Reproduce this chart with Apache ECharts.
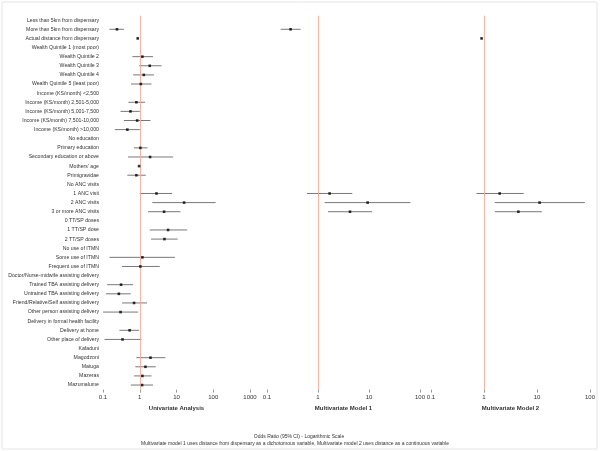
<!DOCTYPE html>
<html><head><meta charset="utf-8">
<script src="https://cdn.jsdelivr.net/npm/echarts@6/dist/echarts.min.js"></script>
<style>html,body{margin:0;padding:0;background:#fff}#c{width:600px;height:451px}</style>
</head><body><div id="c"></div>
<script>
const categories = [
 "Less than 5km from dispensary","More than 5km from dispensary","Actual distance from dispensary",
 "Wealth Quintile 1 (most poor)","Wealth Quintile 2","Wealth Quintile 3","Wealth Quintile 4","Wealth Quintile 5 (least poor)",
 "Income (KS/month) <2,500","Income (KS/month) 2,501-5,000","Income (KS/month) 5,001-7,500","Income (KS/month) 7,501-10,000","Income (KS/month) >10,000",
 "No education","Primary education","Secondary education or above","Mothers' age","Primigravidae",
 "No ANC visits","1 ANC visit","2 ANC visits","3 or more ANC visits",
 "0 TT/SP doses","1 TT/SP dose","2 TT/SP doses",
 "No use of ITMN","Some use of ITMN","Frequent use of ITMN",
 "Doctor/Nurse-midwife assisting delivery","Trained TBA assisting delivery","Untrained TBA assisting delivery","Friend/Relative/Self assisting delivery","Other person assisting delivery",
 "Delivery in formal health facility","Delivery at home","Other place of delivery",
 "Kafaduni","Magodzoni","Matuga","Mazeras","Mazumalume"
];
const N = null;
// Univariate odds ratios and 95% CI
const uniOR = [N,0.24,0.88, N,1.18,1.87,1.29,1.07, N,0.81,0.56,0.85,0.46, N,1.04,1.91,0.96,0.81, N,2.85,16.1,4.6, N,5.9,4.7, N,1.18,1.04, N,0.31,0.27,0.70,0.30, N,0.53,0.34, N,1.96,1.43,1.18,1.16];
const uniLo = [N,0.15,0.85, N,0.63,0.96,0.66,0.58, N,0.49,0.30,0.37,0.21, N,0.70,0.48,0.94,0.46, N,1.0,2.2,1.68, N,1.87,2.03, N,0.15,0.33, N,0.13,0.12,0.33,0.10, N,0.28,0.11, N,0.81,0.76,0.70,0.57];
const uniHi = [N,0.37,0.92, N,2.3,3.9,2.45,2.08, N,1.4,1.0,1.95,1.0, N,1.62,8.1,0.99,1.46, N,7.6,116,12.8, N,19.6,10.8, N,9.0,3.5, N,0.66,0.57,1.58,0.90, N,0.96,1.11, N,5.0,2.73,2.08,2.3];
// Multivariate model 1
const m1OR = {1:0.29, 19:1.69, 20:9.4, 21:4.24};
const m1Lo = {1:0.185, 19:0.61, 20:1.35, 21:1.57};
const m1Hi = {1:0.456, 19:4.7, 20:65, 21:11.5};
// Multivariate model 2
const m2OR = {2:0.90, 19:1.98, 20:11.2, 21:4.45};
const m2Lo = {2:0.88, 19:0.72, 20:1.6, 21:1.6};
const m2Hi = {2:0.92, 19:5.6, 20:80, 21:12.3};
const panelTitles = ["Univariate Analysis","Multivariate Model 1","Multivariate Model 2"];
const panelMax = [1000, 100, 100];

function arrFrom(or, lo, hi){
  const pts=[], ci=[];
  if (Array.isArray(or)) {
    or.forEach((v,i)=>{ if(v!=null){ pts.push([v,i]); ci.push([lo[i],hi[i],i]); } });
  } else {
    Object.keys(or).forEach(k=>{ const i=+k; pts.push([or[i],i]); ci.push([lo[i],hi[i],i]); });
  }
  return {pts, ci};
}
const panels = [arrFrom(uniOR,uniLo,uniHi), arrFrom(m1OR,m1Lo,m1Hi), arrFrom(m2OR,m2Lo,m2Hi)];

const FONT = "Liberation Sans, Arial, sans-serif";
const gridTop = 15.6, gridH = 374;
const grids = [
  {left:103, width:147, top:gridTop, height:gridH},
  {left:267, width:153, top:gridTop, height:gridH},
  {left:431, width:159, top:gridTop, height:gridH}
];
const xAxes = grids.map((g,i)=>({
  type:'log', logBase:10, min:0.1, max:panelMax[i], gridIndex:i,
  splitLine:{show:false},
  axisLine:{lineStyle:{color:'#999', width:1}},
  axisTick:{show:true, length:3, inside:false, lineStyle:{color:'#999'}},
  axisLabel:{fontSize:6, color:'#333', margin:5, fontFamily:FONT,
    formatter:v=>String(+v.toPrecision(3))},
  minorTick:{show:false},
  name:panelTitles[i], nameLocation:'middle', nameGap:14,
  nameTextStyle:{fontSize:6, fontWeight:'bold', color:'#333', fontFamily:FONT}
}));
const yAxes = grids.map((g,i)=>({
  type:'category', data:categories, inverse:true, gridIndex:i,
  axisLine:{show:false}, axisTick:{show:false}, splitLine:{show:false},
  axisLabel:{show:i===0, fontSize:5.2, color:'#333', margin:4, fontFamily:FONT, interval:0}
}));
const series = [];
panels.forEach((p,i)=>{
  series.push({
    type:'custom', xAxisIndex:i, yAxisIndex:i, data:p.ci, silent:true,
    renderItem:(params, api)=>{
      const a = api.coord([api.value(0), api.value(2)]);
      const b = api.coord([api.value(1), api.value(2)]);
      return {type:'line', shape:{x1:a[0],y1:a[1],x2:b[0],y2:b[1]}, style:{stroke:'#555', lineWidth:0.8}};
    },
    encode:{x:[0,1], y:2}
  });
  series.push({
    type:'scatter', xAxisIndex:i, yAxisIndex:i, data:p.pts, symbol:'rect', symbolSize:2.6,
    itemStyle:{color:'#000'}, silent:true, z:5,
    markLine:{silent:true, symbol:'none', label:{show:false},
      lineStyle:{color:'#f4ad9a', width:0.9, type:'solid'}, data:[{xAxis:1}]}
  });
});
const chart = echarts.init(document.getElementById('c'), null, {renderer:'canvas'});
chart.setOption({
  animation:false, backgroundColor:'#fff',
  grid:grids, xAxis:xAxes, yAxis:yAxes, series:series,
  graphic:[
    {type:'rect', shape:{x:2,y:2,width:595,height:447}, style:{fill:'none', stroke:'#e4e4e4', lineWidth:1}, silent:true},
    {type:'text', x:299, y:437, style:{text:'Odds Ratio (95% CI) - Logarithmic Scale', fontSize:5, fill:'#333', fontFamily:FONT, align:'center', verticalAlign:'middle'}},
    {type:'text', x:295, y:443.5, style:{text:'Multivariate model 1 uses distance from dispensary as a dichotomous variable, Multivariate model 2 uses distance as a continuous variable', fontSize:5, fill:'#333', fontFamily:FONT, align:'center', verticalAlign:'middle'}}
  ]
});
</script></body></html>
